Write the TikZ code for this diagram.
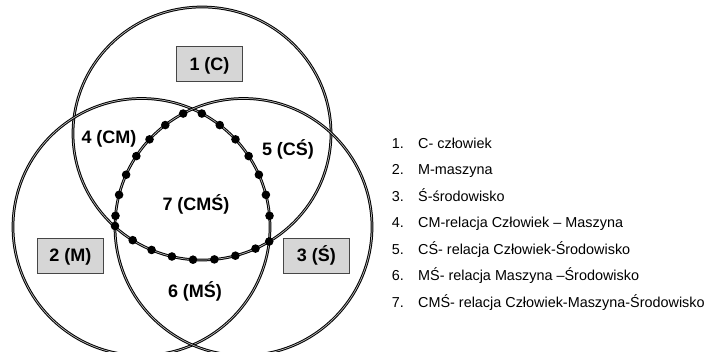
\documentclass[tikz,border=0pt]{standalone}
\usepackage{fontspec}
\setmainfont{Liberation Sans}
\usetikzlibrary{calc}
\begin{document}
\begin{tikzpicture}[x=1pt,y=1pt,
  ring/.style={draw=black, line width=1pt, double=gray!55, double distance=0.7pt},
  setbox/.style={draw=gray!55!black, fill=gray!32, line width=0.6pt,
    minimum width=66pt, minimum height=35pt, inner sep=0pt,
    text height=12.5pt, text depth=0pt, font=\bfseries\fontsize{18}{20}\selectfont},
  region/.style={anchor=base, inner sep=0pt, font=\bfseries\fontsize{18}{20}\selectfont},
  dot/.style={fill=black, circle, inner sep=0pt, minimum size=8.6pt},
  legend/.style={anchor=base west, inner sep=0pt, font=\fontsize{14.4}{16}\selectfont}]
\useasboundingbox (0,0) rectangle (714,351);

% centres of the three sets
\coordinate (cC) at (202,217.5);
\coordinate (cM) at (141.5,124);
\coordinate (cS) at (243.5,124);

% the three sets
\draw[ring] (cC) ellipse [x radius=129, y radius=126.5];
\draw[ring] (cM) circle [radius=128.5];
\draw[ring] (cS) circle [radius=128.5];

% labelled boxes of the single sets
\node[setbox] (bC) at (209.5,287) {1 (C)};
\node[setbox] (bM) at (70.3,95.5) {2 (M)};
\node[setbox] (bS) at (316.3,95.5) {3 (Ś)};

% labels of the overlaps
\node[region] (rCM)  at (109,207)   {4 (CM)};
\node[region] (rCS)  at (288,195)   {5 (CŚ)};
\node[region] (rCMS) at (196,141)   {7 (CMŚ)};
\node[region] (rMS)  at (195,53.3)  {6 (MŚ)};

% dotted outline of the common part
\foreach \a [count=\i] in {118,127.5,137,146.5,156,165.5,175}
  \node[dot] (dl\i) at ($(cS)+(\a:128.5)$) {};
\foreach \a [count=\i] in {62,52.5,43,33.5,24,14.5,5}
  \node[dot] (dr\i) at ($(cM)+(\a:128.5)$) {};
\foreach \a [count=\i] in {237.5,247,256.5,266,275.5,285,294.5}
  \node[dot] (db\i) at ($(cC)+(\a:129 and 126.5)$) {};
\node[dot] (vl) at (115,125) {};
\node[dot] (vr) at (269.2,109.5) {};

% legend
\foreach \t [count=\i] in {C- człowiek, M-maszyna, Ś-środowisko,
    CM-relacja Człowiek – Maszyna, CŚ- relacja Człowiek-Środowisko,
    MŚ- relacja Maszyna –Środowisko, CMŚ- relacja Człowiek-Maszyna-Środowisko}{
  \node[legend] (n\i) at (391.7,{202.7-26.45*(\i-1)}) {\i.};
  \node[legend] (t\i) at (418,{202.7-26.45*(\i-1)}) {\t};
}
\end{tikzpicture}
\end{document}
